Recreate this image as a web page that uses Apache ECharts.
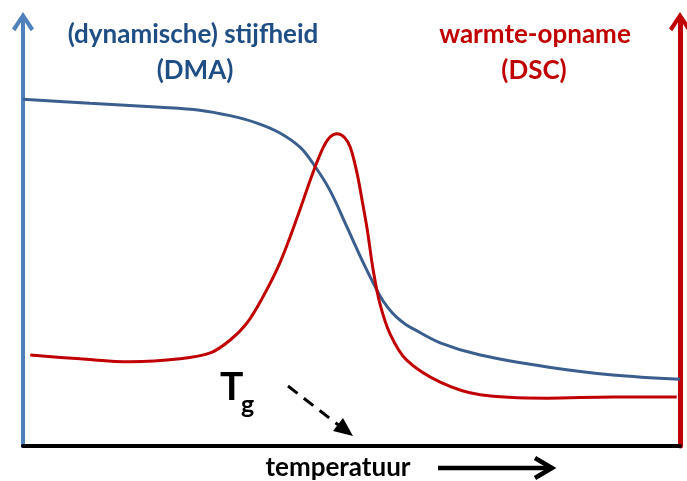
<!DOCTYPE html>
<html>
<head>
<meta charset="utf-8">
<script src="https://cdn.jsdelivr.net/npm/echarts@6/dist/echarts.min.js"></script>
<style>
  html, body { margin: 0; padding: 0; background: #fff; }
  #chart { width: 687px; height: 481px; }
</style>
</head>
<body>
<div id="chart"></div>
<script>
// temperature axis runs 0..100, both signals on a 0..100 scale (arbitrary units)
var dmaTemp = [0, 10.2, 20.9, 26.9, 31.5, 35.5, 39.1, 42.2, 44.1, 46.7, 49.3, 51.8, 54.3, 55.6, 56.9, 58.2, 59.4, 63.5, 69.6, 79.8, 89.8, 100];
var dmaStiff = [82.0, 81.0, 80.1, 79.4, 78.1, 76.4, 74.0, 70.6, 66.9, 60.5, 51.8, 43.3, 35.6, 32.6, 30.4, 28.8, 27.7, 24.4, 21.5, 18.7, 16.8, 15.8];

var dscTemp = [1.1, 8.7, 16.3, 23.9, 28.5, 31.5, 34.1, 36.5, 39.1, 41.7, 44.1, 45.7, 46.7, 47.8, 48.9, 49.8, 50.8, 51.6, 52.4, 53.3, 54.3, 55.9, 58.4, 63.5, 69.6, 79.8, 89.8, 99.5];
var dscHeat = [21.5, 20.6, 19.9, 20.6, 22.0, 25.0, 29.1, 35.2, 43.3, 53.9, 64.5, 70.6, 73.0, 73.8, 73.0, 70.7, 64.8, 58.2, 51.1, 41.6, 33.8, 26.4, 20.3, 15.1, 12.1, 11.3, 11.6, 11.6];

var BLUE = '#3A5F8F';
var RED = '#C00000';
var FONT = 'Lato, "Open Sans", sans-serif';

function zip(xs, ys) {
  return xs.map(function (x, i) { return [x, ys[i]]; });
}

// chevron arrow with a short stem, pointing up (rotated by echarts along the axis)
var chevron = 'path://M10,0 L20,15 L17,17.5 L11.6,9 L11.6,20 L8.4,20 L8.4,9 L3,17.5 L0,15 Z';

var chart = echarts.init(document.getElementById('chart'));
chart.setOption({
  animation: false,
  grid: { left: 23, right: 7, top: 23, bottom: 35 },
  xAxis: {
    type: 'value', min: 0, max: 100,
    axisLine: { lineStyle: { color: '#000', width: 4 } },
    axisTick: { show: false }, axisLabel: { show: false }, splitLine: { show: false }
  },
  yAxis: [
    {
      type: 'value', min: 0, max: 100, position: 'left',
      axisLine: { show: true, symbol: ['none', chevron], symbolSize: [22, 22],
        lineStyle: { color: '#4F81BD', width: 4 } },
      axisTick: { show: false }, axisLabel: { show: false }, splitLine: { show: false }
    },
    {
      type: 'value', min: 0, max: 100, position: 'right',
      axisLine: { show: true, symbol: ['none', chevron], symbolSize: [22, 22],
        lineStyle: { color: RED, width: 5 } },
      axisTick: { show: false }, axisLabel: { show: false }, splitLine: { show: false }
    }
  ],
  series: [
    {
      name: 'DMA', type: 'line', yAxisIndex: 0, smooth: 0.35, showSymbol: false,
      lineStyle: { color: BLUE, width: 3 },
      data: zip(dmaTemp, dmaStiff)
    },
    {
      name: 'DSC', type: 'line', yAxisIndex: 1, smooth: 0.35, showSymbol: false,
      lineStyle: { color: RED, width: 3 },
      data: zip(dscTemp, dscHeat)
    }
  ],
  graphic: [
    { type: 'text', x: 193, y: 35, style: { text: '(dynamische) stijfheid', fill: '#1F4E85',
      font: 'bold 26px ' + FONT, textAlign: 'center', textVerticalAlign: 'middle' } },
    { type: 'text', x: 195, y: 71, style: { text: '(DMA)', fill: '#1F4E85',
      font: 'bold 26px ' + FONT, textAlign: 'center', textVerticalAlign: 'middle' } },
    { type: 'text', x: 535, y: 35, style: { text: 'warmte-opname', fill: RED,
      font: 'bold 26px ' + FONT, textAlign: 'center', textVerticalAlign: 'middle' } },
    { type: 'text', x: 534, y: 71, style: { text: '(DSC)', fill: RED,
      font: 'bold 26px ' + FONT, textAlign: 'center', textVerticalAlign: 'middle' } },
    // T_g
    { type: 'text', x: 220, y: 368, style: { text: 'T', fill: '#000', font: 'bold 39px ' + FONT } },
    { type: 'text', x: 241, y: 392, style: { text: 'g', fill: '#000', font: 'bold 25px ' + FONT } },
    // dashed arrow towards the axis
    { type: 'line', shape: { x1: 288, y1: 386, x2: 341, y2: 427 },
      style: { stroke: '#000', lineWidth: 3, lineDash: [12, 8] } },
    { type: 'polygon', shape: { points: [[353, 436], [333, 431], [343, 418]] },
      style: { fill: '#000' } },
    // axis title with arrow
    { type: 'text', x: 338, y: 468, style: { text: 'temperatuur', fill: '#000',
      font: 'bold 26px ' + FONT, textAlign: 'center', textVerticalAlign: 'middle' } },
    { type: 'line', shape: { x1: 438, y1: 468, x2: 551, y2: 468 },
      style: { stroke: '#000', lineWidth: 4.5 } },
    { type: 'polyline', shape: { points: [[535, 458], [552, 468], [535, 478]] },
      style: { stroke: '#000', lineWidth: 4.5, fill: null } }
  ]
});
</script>
</body>
</html>
